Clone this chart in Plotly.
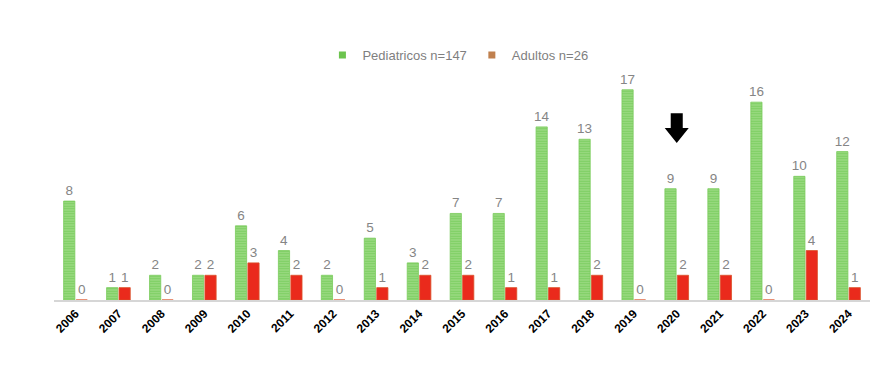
import plotly.graph_objects as go

years = [str(y) for y in range(2006, 2025)]
pediatricos = [8, 1, 2, 2, 6, 4, 2, 5, 3, 7, 7, 14, 13, 17, 9, 9, 16, 10, 12]
adultos = [0, 1, 0, 2, 3, 2, 0, 1, 2, 2, 1, 1, 2, 0, 2, 2, 0, 4, 1]
ped_name = "Pediatricos n=147"
adu_name = "Adultos n=26"
arrow_year = "2020"

GREEN = "#9fdc86"
GREEN_STRIPE = "#58c03a"
RED = "#ea2a1c"
LABEL = "#858585"

fig = go.Figure()
fig.add_trace(go.Bar(
    x=years, y=pediatricos, name=ped_name, showlegend=False,
    marker=dict(color=GREEN, line=dict(color="#7acb5c", width=0.8),
                pattern=dict(shape="-", fgcolor=GREEN_STRIPE, size=2.5, solidity=0.5, fillmode="overlay")),
    text=pediatricos, textposition="outside", cliponaxis=False, constraintext="none",
    textfont=dict(color=LABEL, size=13.5),
))
fig.add_trace(go.Bar(
    x=years, y=adultos, name=adu_name, showlegend=False,
    marker=dict(color=RED, line=dict(color="#d9502a", width=0.8)),
    text=adultos, textposition="outside", cliponaxis=False, constraintext="none",
    textfont=dict(color=LABEL, size=13.5),
))
# legend entries with small square keys
fig.add_trace(go.Scatter(x=[None], y=[None], mode="markers", name=ped_name,
                         marker=dict(symbol="square", size=7, color="#6cc44e")))
fig.add_trace(go.Scatter(x=[None], y=[None], mode="markers", name=adu_name,
                         marker=dict(symbol="square", size=7, color="#c0804e")))

# block arrow above the 2020 group
xi = years.index(arrow_year)
sw, hw = 0.14, 0.28
tip, neck, top = 12.7, 13.9, 15.1
path = (f"M {xi-sw},{top} L {xi+sw},{top} L {xi+sw},{neck} L {xi+hw},{neck} "
        f"L {xi},{tip} L {xi-hw},{neck} L {xi-sw},{neck} Z")
fig.add_shape(type="path", path=path, xref="x", yref="y",
              fillcolor="black", line=dict(color="black", width=0))

fig.update_layout(
    width=886, height=373,
    margin=dict(l=46, r=24, t=62, b=81),
    paper_bgcolor="white", plot_bgcolor="white",
    font=dict(family="Liberation Sans, Arial, sans-serif"),
    barmode="group", bargap=0.42, bargroupgap=0.1,
    showlegend=True,
    legend=dict(orientation="h", x=0.495, xanchor="center", y=1.065, yanchor="middle",
                font=dict(color="#7f7f7f", size=13), itemwidth=30, tracegroupgap=0),
    xaxis=dict(type="category", showline=True, linecolor="#d6d6d6", linewidth=2,
               tickangle=-45, ticks="", showgrid=False, automargin=False,
               range=[-0.5, len(years) - 0.5],
               tickfont=dict(family="Liberation Sans, Arial, sans-serif", size=12, color="black", weight="bold")),
    yaxis=dict(range=[0, 18.6], visible=False, showgrid=False, automargin=False),
)

fig.write_html("out.html")
